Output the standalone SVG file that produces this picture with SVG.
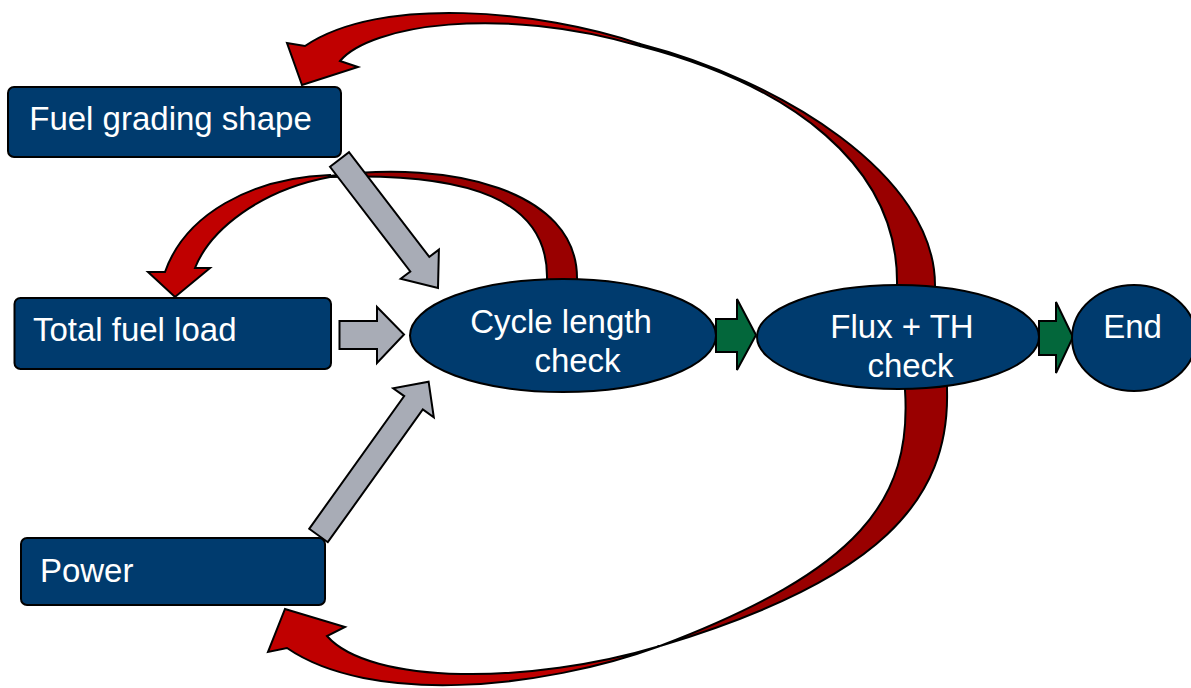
<svg xmlns="http://www.w3.org/2000/svg" width="1191" height="688" viewBox="0 0 1191 688">
<style>
.box{fill:#003B6E;stroke:#000;stroke-width:2}
.lbl{font-family:"Liberation Sans",Arial,sans-serif;font-size:33px;fill:#fff}
.mid{text-anchor:middle}
.front{fill:#C00000;stroke:#000;stroke-width:2;stroke-linejoin:miter}
.back{fill:#990000;stroke:#000;stroke-width:2}
.gray{fill:#A8ACB6;stroke:#000;stroke-width:2}
.green{fill:#03673B;stroke:#000;stroke-width:2}
</style>
<rect width="1191" height="688" fill="#fff"/>
<g id="connectors">
  <!-- Flux -> Fuel grading shape (top) -->
  <path class="back" d="M 640 44 C 780 80, 935 175, 935 285 L 935 295 L 897 295 L 897 285 C 899 165, 790 85, 640 46 Z"/>
  <path class="front" d="M 640 44 C 540 10, 380 -5, 305 46 L 287 43 L 302 85 L 358 67 L 340 61 C 370 25, 500 5, 640 46 Z"/>
  <!-- Flux -> Power (bottom) -->
  <path class="back" d="M 660 646 C 880 580, 950 500, 947 390 L 947 380 L 905 380 L 905 390 C 912 500, 860 570, 660 646 Z"/>
  <path class="front" d="M 660 646 C 540 690, 370 705, 287 648 L 268 652 L 285 609 L 345 627 L 327 636 C 370 685, 530 685, 660 646 Z"/>
  <!-- Cycle -> Total fuel load -->
  <path class="back" d="M 330 176 C 450 160, 577 190, 577 278 L 577 290 L 547 290 L 547 278 C 548 200, 470 172, 330 177 Z"/>
  <path class="front" d="M 330 175 C 250 178, 185 215, 165 272 L 148 272 L 175 297 L 210 268 L 195 268 C 210 230, 260 190, 330 177 Z"/>
  <!-- gray inputs -->
  <path class="gray" d="M 330 166.8 L 349 152.2 L 429.3 256.9 L 438.9 249.6 L 438 288 L 400.7 278.8 L 410.3 271.5 Z"/>
  <path class="gray" d="M 339.5 321 L 377 321 L 377 307 L 404 334.5 L 377 363 L 377 349 L 339.5 349 Z"/>
  <path class="gray" d="M 309.2 528.8 L 327.8 542.2 L 422.8 409.5 L 433.8 417.4 L 428.6 381.7 L 393.2 388.3 L 404.2 396.1 Z"/>
  <!-- green flow -->
  <path class="green" d="M 716 319 L 737 319 L 737 299 L 756 335 L 737 370 L 737 352 L 716 352 Z"/>
  <path class="green" d="M 1039 321 L 1056 321 L 1056 302 L 1073 337 L 1056 373 L 1056 355 L 1039 355 Z"/>
</g>
<g id="node-fuel-grading">
  <rect class="box" x="8" y="87" width="333" height="70" rx="6"/>
  <text class="lbl mid" x="170.5" y="129.5">Fuel grading shape</text>
</g>
<g id="node-total-fuel">
  <rect class="box" x="14.5" y="298" width="316.5" height="71" rx="6"/>
  <text class="lbl mid" x="134.7" y="340.7">Total fuel load</text>
</g>
<g id="node-power">
  <rect class="box" x="21" y="538" width="304" height="67" rx="6"/>
  <text class="lbl mid" x="86.7" y="582">Power</text>
</g>
<g id="node-cycle">
  <ellipse class="box" cx="563" cy="335.5" rx="153" ry="56.5"/>
  <text class="lbl mid" x="561" y="332.7">Cycle length</text>
  <text class="lbl mid" x="577.5" y="371.7">check</text>
</g>
<g id="node-flux">
  <ellipse class="box" cx="898" cy="337" rx="141" ry="52"/>
  <text class="lbl mid" x="902" y="338">Flux + TH</text>
  <text class="lbl mid" x="910.5" y="377">check</text>
</g>
<g id="node-end">
  <ellipse class="box" cx="1134" cy="338" rx="62" ry="53"/>
  <text class="lbl mid" x="1132.5" y="338">End</text>
</g>
</svg>
